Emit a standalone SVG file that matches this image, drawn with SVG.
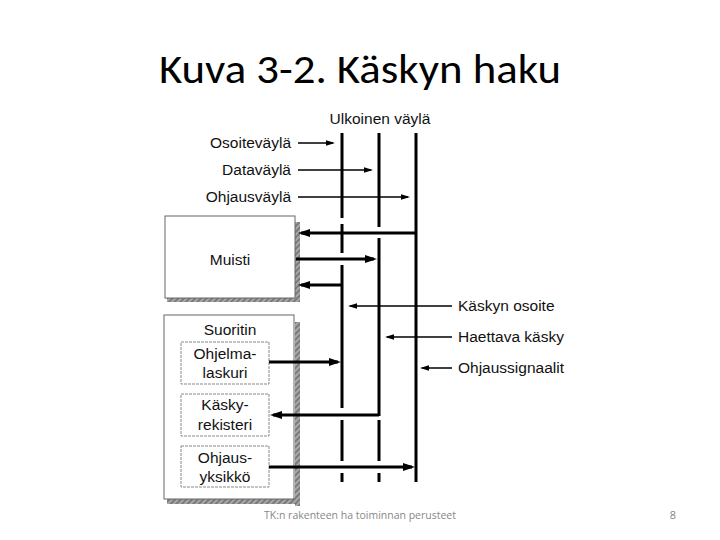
<svg xmlns="http://www.w3.org/2000/svg" width="720" height="540" viewBox="0 0 720 540">
<style>
.lbl{font-family:"Liberation Sans",Arial,sans-serif;font-size:15.5px;fill:#111}
.ctr{text-anchor:middle}
.end{text-anchor:end}
.bus{stroke:#000;stroke-width:3;fill:none}
.thin{stroke:#000;stroke-width:1.5;fill:none}
.thick{stroke:#000;stroke-width:3.2;fill:none}
.box{fill:#fff;stroke:#666;stroke-width:1}
.ibox{fill:#fff;stroke:#888;stroke-width:1;stroke-dasharray:3 1}
.shadow{fill:url(#hatch)}
</style>
<defs>
<pattern id="hatch" width="4" height="4" patternUnits="userSpaceOnUse" patternTransform="rotate(45)">
<rect width="4" height="4" fill="#a8a8a8"/>
<rect width="2" height="4" fill="#7a7a7a"/>
</pattern>
<marker id="ah" markerUnits="userSpaceOnUse" markerWidth="14" markerHeight="10" refX="9" refY="4" orient="auto">
<path d="M0,0 L12,4 L0,8 z" fill="#000"/>
</marker>
<marker id="as" markerUnits="userSpaceOnUse" markerWidth="12" markerHeight="8" refX="7" refY="2.75" orient="auto">
<path d="M0,0 L9,2.75 L0,5.5 z" fill="#000"/>
</marker>
</defs>
<rect width="720" height="540" fill="#fff"/>

<text x="360" y="83" font-family="Carlito,'Open Sans','Liberation Sans',sans-serif" font-size="40" text-anchor="middle" textLength="402" lengthAdjust="spacingAndGlyphs" fill="#000">Kuva 3-2. Käskyn haku</text>

<g id="bus-label"><text class="lbl ctr" x="380" y="124">Ulkoinen väylä</text></g>
<g id="osoitevayla"><text class="lbl end" x="291" y="148">Osoiteväylä</text></g>
<g id="datavayla"><text class="lbl end" x="291" y="175">Dataväylä</text></g>
<g id="ohjausvayla"><text class="lbl end" x="291" y="202">Ohjausväylä</text></g>

<g id="muisti">
<rect class="shadow" x="295" y="222" width="5" height="80"/>
<rect class="shadow" x="167" y="297" width="133" height="5"/>
<rect class="box" x="165" y="216" width="130" height="82"/>
<text class="lbl ctr" x="230" y="265">Muisti</text>
</g>

<g id="suoritin">
<rect class="shadow" x="295" y="322" width="5" height="184"/>
<rect class="shadow" x="167" y="498" width="133" height="6"/>
<rect class="box" x="164" y="315" width="130" height="184"/>
<text class="lbl ctr" x="230" y="335">Suoritin</text>
</g>
<g id="ohjelmalaskuri">
<rect class="ibox" x="181" y="342" width="88" height="42"/>
<text class="lbl ctr" x="225" y="359">Ohjelma-</text>
<text class="lbl ctr" x="225" y="378">laskuri</text>
</g>
<g id="kaskyrekisteri">
<rect class="ibox" x="181" y="394" width="88" height="42"/>
<text class="lbl ctr" x="225" y="410">Käsky-</text>
<text class="lbl ctr" x="225" y="430">rekisteri</text>
</g>
<g id="ohjausyksikko">
<rect class="ibox" x="181" y="446" width="88" height="41"/>
<text class="lbl ctr" x="225" y="463">Ohjaus-</text>
<text class="lbl ctr" x="225" y="482">yksikkö</text>
</g>

<g id="kaskyn-osoite"><text class="lbl" x="458" y="311">Käskyn osoite</text></g>
<g id="haettava-kasky"><text class="lbl" x="458" y="342">Haettava käsky</text></g>
<g id="ohjaussignaalit"><text class="lbl" x="458" y="373">Ohjaussignaalit</text></g>

<g id="connectors">
<path class="bus" d="M342,133 V218 M342,224 V253 M342,265 V408 M342,420 V461 M342,473 V482"/>
<path class="bus" d="M379,133 V227 M379,238 V416 M379,420 V461 M379,473 V482"/>
<path class="bus" d="M416,133 V482"/>

<path class="thin" marker-end="url(#as)" d="M298,143 H333"/>
<path class="thin" marker-end="url(#as)" d="M298,170 H371"/>
<path class="thin" marker-end="url(#as)" d="M298,197 H408"/>

<path class="thin" marker-end="url(#as)" d="M452,306 H350"/>
<path class="thin" marker-end="url(#as)" d="M452,337 H387"/>
<path class="thin" marker-end="url(#as)" d="M452,368 H422"/>

<path class="thick" marker-end="url(#ah)" d="M416,233 H301"/>
<path class="thick" marker-end="url(#ah)" d="M296,259 H374"/>
<path class="thick" marker-end="url(#ah)" d="M342,285 H301"/>
<path class="thick" marker-end="url(#ah)" d="M269,362 H338"/>
<path class="thick" marker-end="url(#ah)" d="M379,415 H273"/>
<path class="thick" marker-end="url(#ah)" d="M269,467 H412"/>
</g>

<text x="360" y="519" font-family="'Open Sans','Liberation Sans',sans-serif" font-size="11" fill="#888" text-anchor="middle" textLength="192" lengthAdjust="spacingAndGlyphs">TK:n rakenteen ha toiminnan perusteet</text>
<text x="673" y="519" font-family="'Open Sans','Liberation Sans',sans-serif" font-size="11" fill="#888" text-anchor="middle">8</text>
</svg>
